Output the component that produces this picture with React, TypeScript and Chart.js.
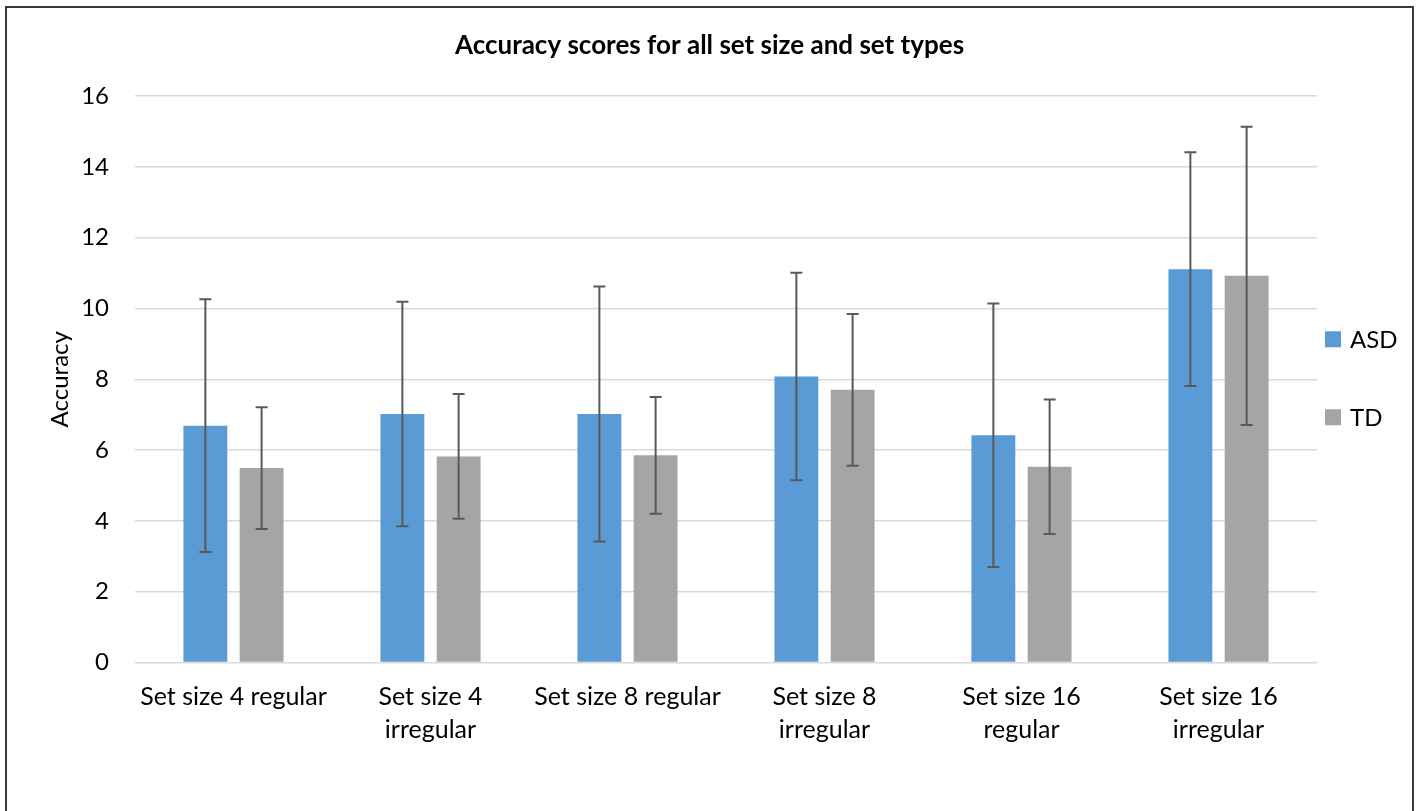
import React, { useEffect, useRef } from "react";
import { Chart, registerables } from "chart.js";

Chart.register(...registerables);

const categories: string[][] = [
  ["Set size 4 regular"],
  ["Set size 4", "irregular"],
  ["Set size 8 regular"],
  ["Set size 8", "irregular"],
  ["Set size 16", "regular"],
  ["Set size 16", "irregular"],
];

const seriesNames = ["ASD", "TD"];
const asdMean = [6.69, 7.02, 7.02, 8.08, 6.42, 11.11];
const asdErr = [3.57, 3.17, 3.6, 2.93, 3.72, 3.3];
const tdMean = [5.49, 5.82, 5.85, 7.7, 5.53, 10.92];
const tdErr = [1.72, 1.76, 1.65, 2.14, 1.9, 4.21];
const yTicks = [0, 2, 4, 6, 8, 10, 12, 14, 16];

const FONT = "Lato";
const W = 1419;
const H = 811;

const errorBarPlugin = {
  id: "errorBars",
  afterDatasetsDraw(chart: any) {
    const { ctx } = chart;
    const yScale = chart.scales.y;
    chart.data.datasets.forEach((ds: any, i: number) => {
      const meta = chart.getDatasetMeta(i);
      const errs: number[] = ds.errors || [];
      meta.data.forEach((bar: any, j: number) => {
        const v = ds.data[j];
        const e = errs[j];
        if (e == null) return;
        const x = bar.x;
        const yt = yScale.getPixelForValue(v + e);
        const yb = yScale.getPixelForValue(v - e);
        ctx.save();
        ctx.strokeStyle = "#595959";
        ctx.lineWidth = 2;
        ctx.beginPath();
        ctx.moveTo(x, yt);
        ctx.lineTo(x, yb);
        ctx.moveTo(x - 6, yt);
        ctx.lineTo(x + 6, yt);
        ctx.moveTo(x - 6, yb);
        ctx.lineTo(x + 6, yb);
        ctx.stroke();
        ctx.restore();
      });
    });
  },
};

const legendPlugin = {
  id: "sideLegend",
  afterDraw(chart: any) {
    const { ctx, chartArea } = chart;
    const n = chart.data.datasets.length;
    const gap = 78;
    const cy = (chartArea.top + chartArea.bottom) / 2 - 1;
    const startY = cy - ((n - 1) * gap) / 2;
    const x0 = chartArea.right + 8;
    ctx.save();
    chart.data.datasets.forEach((ds: any, i: number) => {
      const y = startY + i * gap;
      ctx.fillStyle = ds.backgroundColor;
      ctx.fillRect(x0, y - 8, 16, 16);
      ctx.fillStyle = "#000000";
      ctx.font = `24px ${FONT}`;
      ctx.textBaseline = "middle";
      ctx.textAlign = "left";
      ctx.fillText(ds.label, x0 + 25, y + 1);
    });
    ctx.restore();
  },
};

export default function App() {
  const ref = useRef<HTMLCanvasElement | null>(null);

  useEffect(() => {
    if (!ref.current) return;
    const chart = new Chart(ref.current, {
      type: "bar",
      data: {
        labels: categories,
        datasets: [
          {
            label: seriesNames[0],
            data: asdMean,
            errors: asdErr,
            backgroundColor: "#5B9BD5",
            categoryPercentage: 0.571,
            barPercentage: 0.78,
          } as any,
          {
            label: seriesNames[1],
            data: tdMean,
            errors: tdErr,
            backgroundColor: "#A5A5A5",
            categoryPercentage: 0.571,
            barPercentage: 0.78,
          } as any,
        ],
      },
      options: {
        responsive: false,
        animation: false,
        devicePixelRatio: 1,
        layout: { padding: { left: 0, right: 0, top: 0, bottom: 0 } },
        plugins: {
          legend: { display: false },
          tooltip: { enabled: false },
          title: {
            display: true,
            text: "Accuracy scores for all set size and set types",
            color: "#000000",
            font: { family: FONT, size: 26, weight: "bold", lineHeight: 1.2 },
            padding: { top: 30, bottom: 34.8 },
          },
        },
        scales: {
          x: {
            grid: { display: false },
            border: { display: false },
            ticks: {
              color: "#000000",
              font: { family: FONT, size: 25, lineHeight: "33px" as any },
              padding: 10,
              maxRotation: 0,
              autoSkip: false,
            },
            afterFit(scale: any) {
              scale.height = 148.5;
            },
          },
          y: {
            min: 0,
            max: 16,
            afterBuildTicks(scale: any) {
              scale.ticks = yTicks.map((v) => ({ value: v }));
            },
            grid: { color: "#D9D9D9", lineWidth: 1.5, drawTicks: false },
            border: { display: false },
            ticks: {
              color: "#000000",
              font: { family: FONT, size: 24 },
              padding: 26,
            },
            title: {
              display: true,
              text: "Accuracy",
              color: "#000000",
              font: { family: FONT, size: 24, lineHeight: 1.2 },
              padding: { top: 46, bottom: 0 },
            },
            afterFit(scale: any) {
              scale.width = 135;
            },
          },
          legendSpace: {
            type: "linear",
            position: "right",
            display: true,
            grid: { display: false, drawTicks: false },
            border: { display: false },
            ticks: { display: false },
            afterFit(scale: any) {
              scale.width = 102;
            },
          } as any,
        },
      },
      plugins: [errorBarPlugin, legendPlugin],
    });
    return () => chart.destroy();
  }, []);

  return (
    <div
      style={{
        position: "fixed",
        left: 0,
        top: 0,
        width: W,
        height: H,
        overflow: "hidden",
        background: "#ffffff",
      }}
    >
      <canvas
        ref={ref}
        width={W}
        height={H}
        style={{ position: "absolute", left: 0, top: 0, width: W, height: H, display: "block" }}
      />
      <div
        style={{
          position: "absolute",
          left: 5,
          top: 6,
          width: 1405,
          height: 840,
          border: "2px solid #3a3a3a",
          boxSizing: "content-box",
          pointerEvents: "none",
        }}
      />
    </div>
  );
}
